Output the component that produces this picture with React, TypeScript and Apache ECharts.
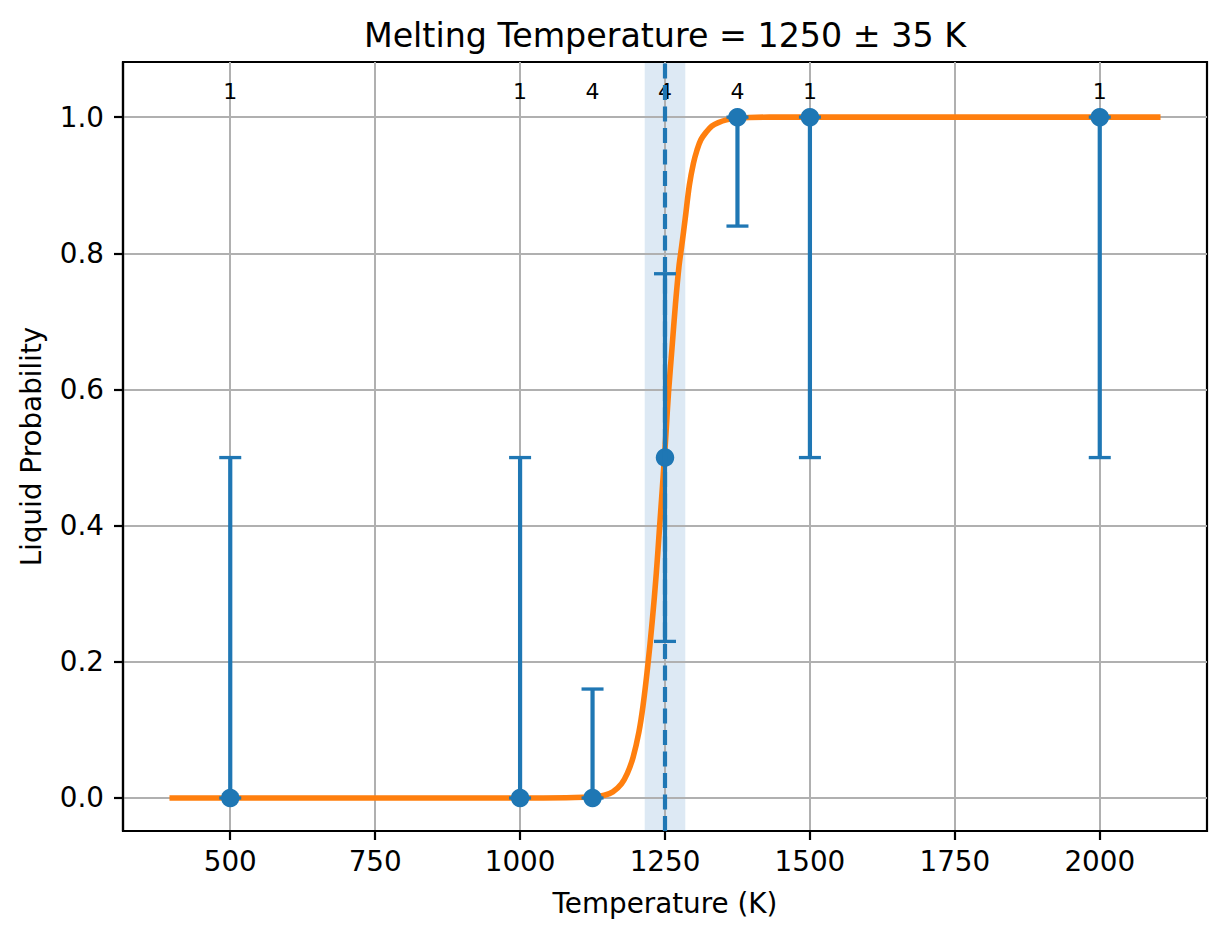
import React, { useEffect, useRef } from "react";
import * as echarts from "echarts";

// ---- data ----
const temps = [500, 1000, 1125, 1250, 1375, 1500, 2000];
const probs = [0, 0, 0, 0.5, 1, 1, 1];
const lowerBounds = [0, 0, 0, 0.23, 0.84, 0.5, 0.5];
const upperBounds = [0.5, 0.5, 0.16, 0.77, 1, 1, 1];
const counts = [1, 1, 4, 4, 4, 1, 1];

// fitted curve, points
const curveT = [
  400, 1000, 1080, 1110, 1130, 1145, 1160, 1175, 1185, 1195, 1205, 1212, 1220,
  1228, 1235, 1240, 1245, 1249, 1252, 1256, 1262, 1268, 1274, 1279, 1285, 1292,
  1299, 1305, 1312, 1322, 1331, 1342, 1356, 1372, 1395, 1430, 2100,
];
const curveP = [
  0, 0, 0.0003, 0.001, 0.002, 0.004, 0.009, 0.021, 0.036, 0.06, 0.097, 0.135,
  0.192, 0.26, 0.33, 0.39, 0.45, 0.5, 0.54, 0.595, 0.66, 0.725, 0.78, 0.812,
  0.852, 0.9, 0.932, 0.951, 0.967, 0.979, 0.987, 0.992, 0.996, 0.998, 0.9995, 1, 1,
];

const meltT = 1250;
const meltErr = 35;

const xTicks = [500, 750, 1000, 1250, 1500, 1750, 2000];
const yTicks = [0, 0.2, 0.4, 0.6, 0.8, 1.0];
const xRange = [315, 2185];
const yRange = [-0.0485, 1.081];
const countLabelY = 1.038;

const titleText = "Melting Temperature = 1250 ± 35 K";
const xName = "Temperature (K)";
const yName = "Liquid Probability";

const BLUE = "#1f77b4";
const ORANGE = "#ff7f0e";
const FONT = "DejaVu Sans";

export default function App() {
  const ref = useRef<HTMLDivElement>(null);

  useEffect(() => {
    document.body.style.margin = "0";
    if (!ref.current) return;
    const chart = echarts.init(ref.current, undefined, { renderer: "svg" });

    const curveData = curveT.map((t, i) => [t, curveP[i]]);
    const errData = temps.map((t, i) => [t, lowerBounds[i], upperBounds[i]]);
    const pointData = temps.map((t, i) => [t, probs[i]]);
    const countData = temps.map((t, i) => [t, countLabelY, counts[i]]);

    const option: any = {
      animation: false,
      grid: {
        left: 123,
        right: 20,
        top: 62,
        bottom: 108,
        show: true,
        borderColor: "#000",
        borderWidth: 2.2,
        backgroundColor: "transparent",
      },
      xAxis: {
        type: "value",
        min: xRange[0],
        max: xRange[1],
        axisLine: { show: true, onZero: false, lineStyle: { color: "#000", width: 2.2 } },
        axisTick: {
          show: true,
          customValues: xTicks,
          length: 9,
          lineStyle: { color: "#000", width: 2.2 },
        },
        axisLabel: {
          customValues: xTicks,
          fontSize: 27.8,
          fontFamily: FONT,
          color: "#000",
          margin: 16,
          formatter: (v: number) => String(v),
        },
        splitLine: { show: true, lineStyle: { color: "#b0b0b0", width: 2 } },
      },
      yAxis: {
        type: "value",
        min: yRange[0],
        max: yRange[1],
        axisLine: { show: true, onZero: false, lineStyle: { color: "#000", width: 2.2 } },
        axisTick: {
          show: true,
          customValues: yTicks,
          length: 9,
          lineStyle: { color: "#000", width: 2.2 },
        },
        axisLabel: {
          customValues: yTicks,
          fontSize: 27.8,
          fontFamily: FONT,
          color: "#000",
          margin: 19,
          formatter: (v: number) => v.toFixed(1),
        },
        splitLine: { show: true, lineStyle: { color: "#b0b0b0", width: 2 } },
      },
      graphic: [
        {
          type: "text",
          x: 665,
          y: 35,
          style: {
            text: titleText,
            fontSize: 33.3,
            fontFamily: FONT,
            fill: "#000",
            align: "center",
            verticalAlign: "middle",
          },
        },
        {
          type: "text",
          x: 665,
          y: 903,
          style: {
            text: xName,
            fontSize: 27.8,
            fontFamily: FONT,
            fill: "#000",
            align: "center",
            verticalAlign: "middle",
          },
        },
        {
          type: "text",
          x: 31,
          y: 446.5,
          rotation: Math.PI / 2,
          style: {
            text: yName,
            fontSize: 27.8,
            fontFamily: FONT,
            fill: "#000",
            align: "center",
            verticalAlign: "middle",
          },
        },
      ],
      series: [
        {
          // shaded uncertainty span
          type: "custom",
          z: -1,
          silent: true,
          data: [[meltT - meltErr, meltT + meltErr]],
          encode: { x: [0, 1] },
          renderItem: (params: any, api: any) => {
            const p0 = api.coord([api.value(0), yRange[1]]);
            const p1 = api.coord([api.value(1), yRange[0]]);
            return {
              type: "rect",
              shape: { x: p0[0], y: p0[1], width: p1[0] - p0[0], height: p1[1] - p0[1] },
              style: { fill: "#dde9f4" },
            };
          },
        },
        {
          type: "line",
          z: 2,
          data: curveData,
          showSymbol: false,
          symbol: "none",
          smooth: 0.35,
          lineStyle: { color: ORANGE, width: 5.6, cap: "square", join: "round" },
          silent: true,
        },
        {
          type: "custom",
          z: 3,
          silent: true,
          data: errData,
          encode: { x: 0, y: [1, 2] },
          renderItem: (params: any, api: any) => {
            const x = api.value(0);
            const lo = api.coord([x, api.value(1)]);
            const hi = api.coord([x, api.value(2)]);
            const cap = 11;
            return {
              type: "group",
              children: [
                {
                  type: "line",
                  shape: { x1: lo[0], y1: lo[1], x2: hi[0], y2: hi[1] },
                  style: { stroke: BLUE, lineWidth: 4.2 },
                },
                {
                  type: "line",
                  shape: { x1: lo[0] - cap, y1: lo[1], x2: lo[0] + cap, y2: lo[1] },
                  style: { stroke: BLUE, lineWidth: 3.3 },
                },
                {
                  type: "line",
                  shape: { x1: hi[0] - cap, y1: hi[1], x2: hi[0] + cap, y2: hi[1] },
                  style: { stroke: BLUE, lineWidth: 3.3 },
                },
              ],
            };
          },
        },
        {
          type: "scatter",
          z: 4,
          data: pointData,
          symbol: "circle",
          symbolSize: 18.5,
          itemStyle: { color: BLUE, opacity: 1 },
          silent: true,
        },
        {
          type: "custom",
          z: 3,
          silent: true,
          data: countData,
          encode: { x: 0, y: 1 },
          renderItem: (params: any, api: any) => {
            const p = api.coord([api.value(0), api.value(1)]);
            return {
              type: "text",
              x: p[0],
              y: p[1],
              style: {
                text: String(api.value(2)),
                fontSize: 22,
                fontFamily: FONT,
                fill: "#000",
                align: "center",
                verticalAlign: "middle",
              },
            };
          },
        },
        {
          // dashed vertical line at the melting temperature
          type: "custom",
          z: 5,
          silent: true,
          data: [[meltT]],
          encode: { x: 0 },
          renderItem: (params: any, api: any) => {
            const x = api.value(0);
            const p0 = api.coord([x, yRange[0]]);
            const p1 = api.coord([x, yRange[1]]);
            return {
              type: "line",
              shape: { x1: p0[0], y1: p0[1], x2: p1[0], y2: p1[1] },
              style: { stroke: BLUE, lineWidth: 4.2, lineDash: [15, 6.5] },
            };
          },
        },
      ],
    };

    chart.setOption(option);
    return () => chart.dispose();
  }, []);

  return (
    <div
      ref={ref}
      style={{ position: "absolute", left: 0, top: 0, width: 1227, height: 939, background: "#fff" }}
    />
  );
}
